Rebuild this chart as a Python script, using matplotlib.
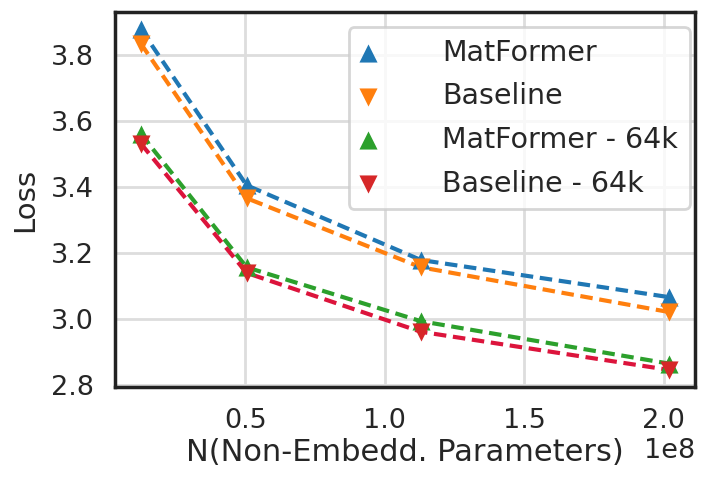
import matplotlib.pyplot as plt
import numpy as np
import seaborn as sns

sns.set_theme(style="whitegrid")
plt.rcParams["font.family"] = ["DejaVu Sans"]

# non-embedding parameter counts (x 1e8) and losses
params = np.array([0.126e8, 0.505e8, 1.13e8, 2.018e8])
matformer = [3.877, 3.405, 3.179, 3.067]
baseline = [3.833, 3.366, 3.157, 3.022]
matformer_64k = [3.560, 3.157, 2.994, 2.866]
baseline_64k = [3.531, 3.140, 2.962, 2.847]

fig = plt.figure(figsize=(7.07, 4.86), dpi=100)
ax = fig.add_axes([0.162, 0.204, 0.821, 0.771])

series = [
    ("MatFormer", matformer, "^", "tab:blue", "tab:blue"),
    ("Baseline", baseline, "v", "tab:orange", "tab:orange"),
    ("MatFormer - 64k", matformer_64k, "^", "tab:green", "tab:green"),
    ("Baseline - 64k", baseline_64k, "v", "tab:red", "crimson"),
]

for label, y, m, c, lc in series:
    ax.plot(params, y, linestyle="--", color=lc, lw=3, dashes=(3, 1.6), zorder=2)
for label, y, m, c, lc in series:
    ax.scatter(params, y, marker=m, color=c, s=170, label=label, zorder=3, linewidths=0)

ax.set_xlabel("N(Non-Embedd. Parameters)", fontsize=22, labelpad=3)
ax.set_ylabel("Loss", fontsize=21, labelpad=8)
ax.tick_params(axis="both", labelsize=19.5, length=0, pad=15)
ax.xaxis.get_offset_text().set_fontsize(19.5)
ax.grid(True, color="#dddddd", lw=2)
for s in ax.spines.values():
    s.set_color("#222222")
    s.set_linewidth(2.5)

leg = ax.legend(loc="upper right", bbox_to_anchor=(0.991, 0.96), borderaxespad=0,
                fontsize=20.5, frameon=True, borderpad=0.4, handlelength=0.6,
                handletextpad=2.3, labelspacing=0.55)
leg.get_frame().set_edgecolor("#cccccc")
leg.get_frame().set_linewidth(2)

fig.savefig("out.png", dpi=100)
